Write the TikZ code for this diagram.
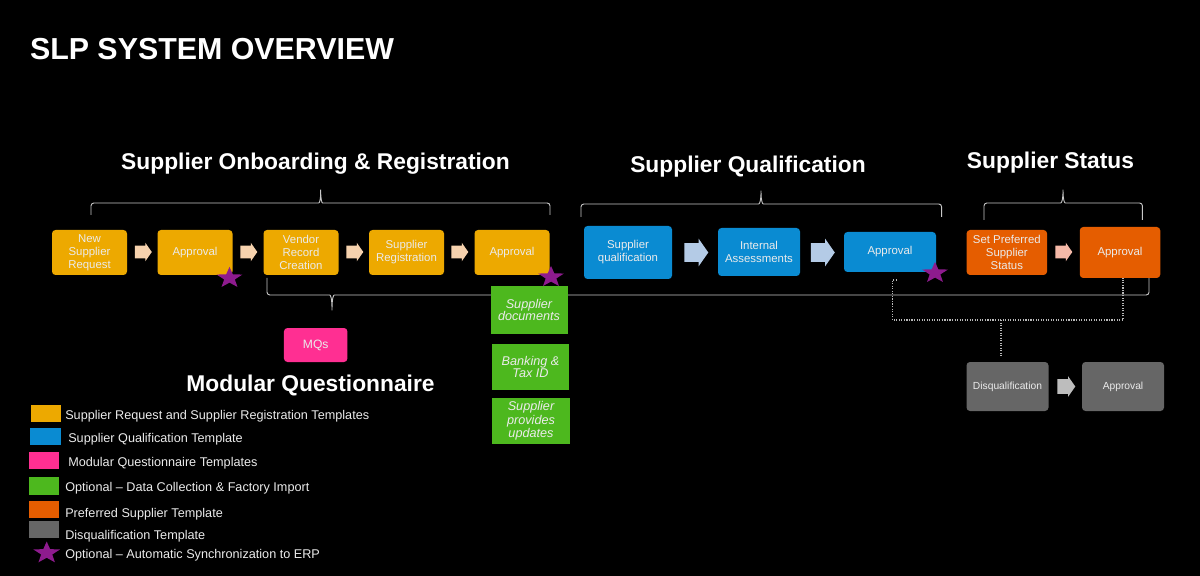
\documentclass[tikz,border=0pt]{standalone}
\usepackage{fontspec}
\setmainfont{Liberation Sans}
\usetikzlibrary{shapes.geometric, shapes.arrows}

\definecolor{yellowbox}{HTML}{EDA900}
\definecolor{bluebox}{HTML}{0A8BD2}
\definecolor{pinkbox}{HTML}{FF2F92}
\definecolor{greenbox}{HTML}{4DB81E}
\definecolor{orangebox}{HTML}{E55D00}
\definecolor{graybox}{HTML}{666666}
\definecolor{starcol}{HTML}{8E1B8E}
\definecolor{peach}{HTML}{F6D2AE}
\definecolor{paleblue}{HTML}{B4CBE6}
\definecolor{salmon}{HTML}{F5B9A8}
\definecolor{palegray}{HTML}{BDBDBD}
\definecolor{bracecol}{HTML}{C8C8C8}

\tikzset{
    wh/.style 2 args={minimum width=#1*0.025cm, minimum height=#2*0.025cm},
    box/.style={rounded corners=2.5pt, inner sep=0pt, align=center, text=white!92!black,
        font=\fontsize{8.1}{9.2}\selectfont},
    optbox/.style={inner sep=0pt, align=center, text=white!92!black,
        font=\fontsize{9}{9}\selectfont\itshape, fill=greenbox},
    blockarrow/.style 2 args={single arrow, anchor=tail, inner xsep=0pt, inner ysep=#1*0.025cm,
        single arrow tip angle=110, single arrow head extend=#2*0.025cm, single arrow head indent=0pt},
    smallarrow/.style={blockarrow={6}{3}, minimum height=17*0.025cm},
    bigarrow/.style={blockarrow={9}{4.5}, minimum height=24*0.025cm},
    erpstar/.style={star, star points=5, star point ratio=2.4, fill=starcol, inner sep=0pt,
        minimum size=#1*0.025cm, transform shape, yscale=0.82},
    erpstar/.default=27,
    heading/.style={text=white, font=\fontsize{16.2}{18}\selectfont\bfseries, inner sep=0pt},
    legendtext/.style={anchor=west, inner sep=0pt, text=white!92!black,
        font=\fontsize{9}{11}\selectfont},
    bracket/.style={draw=bracecol, line width=0.65pt, rounded corners=2pt},
    dots/.style={draw=white!72!black, line width=0.8pt, densely dotted},
}

\begin{document}
\begin{tikzpicture}[x=0.025cm, y=-0.025cm]
        \fill[black] (0,0) rectangle (1200,576);
        \useasboundingbox (0,0) rectangle (1200,576);

        % titles
        \node[text=white, font=\fontsize{21.6}{24}\selectfont\bfseries, inner sep=0pt] (title) at (212,49) {SLP SYSTEM OVERVIEW};
        \node[heading] (onboard) at (315.5,164) {Supplier Onboarding \& Registration};
        \node[heading] (qualif) at (748,167) {Supplier Qualification};
        \node[heading] (status) at (1050.5,163) {Supplier Status};
        \node[heading] (modular) at (310.5,385) {Modular Questionnaire};

        % braces
        \draw[bracket] (91,215) -- (91,203) -- (316,203) .. controls (319.5,203) and (320.7,200) .. (320.7,188) .. controls (320.7,200) and (321.9,203) .. (325.4,203) -- (550,203) -- (550,215);
        \draw[bracket] (581,217) -- (581,204) -- (756,204) .. controls (759.5,204) and (761,201) .. (761,189) .. controls (761,201) and (762.5,204) .. (766,204) -- (941.6,204) -- (941.6,217);
        \draw[bracket] (984,220) -- (984,203) -- (1058,203) .. controls (1061.5,203) and (1063,200) .. (1063,188) .. controls (1063,200) and (1064.5,203) .. (1068,203) -- (1142.4,203) -- (1142.4,220);
        \draw[bracket] (267,278) -- (267,295) -- (327,295) .. controls (330.5,295) and (332,298) .. (332,312) .. controls (332,298) and (333.5,295) .. (337,295) -- (1149,295) -- (1149,278);

        % onboarding
        \node[box, fill=yellowbox, wh={75}{45}] (request) at (89.5,252.5) {New\\Supplier\\Request};
        \node[box, fill=yellowbox, wh={75}{45}] (approvalA) at (195,252.5) {Approval};
        \node[box, fill=yellowbox, wh={75}{45}] (vendor) at (301,252.5) {Vendor\\Record\\Creation};
        \node[box, fill=yellowbox, wh={75}{45}] (registration) at (406.5,252.5) {Supplier\\Registration};
        \node[box, fill=yellowbox, wh={75}{45}] (approvalB) at (512,252.5) {Approval};

        \node[smallarrow, fill=peach] (arrowA) at (134.5,252) {};
        \node[smallarrow, fill=peach] (arrowB) at (240,252) {};
        \node[smallarrow, fill=peach] (arrowC) at (346,252) {};
        \node[smallarrow, fill=peach] (arrowD) at (451,252) {};

        % qualification
        \node[box, fill=bluebox, wh={88}{53}] (supqual) at (628,252.5) {Supplier\\qualification};
        \node[box, fill=bluebox, wh={82}{48}] (internal) at (759,252) {Internal\\Assessments};
        \node[box, fill=bluebox, wh={92}{40}] (approvalC) at (890,252) {Approval};

        \node[bigarrow, fill=paleblue] (arrowE) at (684,252.5) {};
        \node[bigarrow, fill=paleblue] (arrowF) at (810.5,252.5) {};

        % status
        \node[box, fill=orangebox, wh={80.5}{45}] (preferred) at (1006.8,252.5) {Set Preferred\\Supplier\\Status};
        \node[box, fill=orangebox, wh={80.5}{51}] (approvalD) at (1120,252.5) {Approval};
        \node[smallarrow, fill=salmon] (arrowG) at (1055,252) {};

        % disqualification
        \node[box, fill=graybox, wh={82}{49}, font=\fontsize{7.3}{9}\selectfont] (disqual) at (1007.5,386.5) {Disqualification};
        \node[box, fill=graybox, wh={82}{49}, font=\fontsize{7.3}{9}\selectfont] (approvalE) at (1123,386.5) {Approval};
        \node[blockarrow={7}{3}, minimum height=18*0.025cm, fill=palegray] (arrowH) at (1057,386.5) {};

        % optional steps
        \node[optbox, wh={77}{48}] (documents) at (529,310) {Supplier\\documents};
        \node[optbox, wh={77}{46}] (banking) at (530.5,367) {Banking \&\\Tax ID};
        \node[optbox, wh={78}{46}, font=\fontsize{9}{9.5}\selectfont\itshape] (updates) at (531,421) {Supplier\\provides\\updates};
        \node[box, fill=pinkbox, wh={63.5}{34}, font=\fontsize{8.6}{10}\selectfont] (mqs) at (315.7,345) {MQs};

        % stars
        \node[erpstar] (starA) at (229.5,278) {};
        \node[erpstar] (starB) at (551,277) {};
        \node[erpstar] (starC) at (935,273) {};

        % dotted links
        \coordinate (stub) at (897,280);
        \coordinate (corner) at (892.6,280);
        \coordinate (join) at (1001,320);
        \coordinate (drop) at (1001,356);
        \draw[dots] (stub) -- (corner) -- (892.6,320) -- (1123,320) -- (1123,277.7);
        \draw[dots] (join) -- (drop);

        % legend
        \fill[yellowbox] (31.4,405) rectangle (60.5,421.7);
        \fill[bluebox] (30,427.7) rectangle (60.5,445);
        \fill[pinkbox] (29,451.7) rectangle (59.3,469);
        \fill[greenbox] (29,477) rectangle (59,494.7);
        \fill[orangebox] (29,501) rectangle (59,518);
        \fill[graybox] (29,521) rectangle (59,538);
        \node[erpstar=28] (starL) at (46.7,553) {};

        \node[legendtext] (legA) at (65,416) {Supplier Request and Supplier Registration Templates};
        \node[legendtext] (legB) at (68,439) {Supplier Qualification Template};
        \node[legendtext] (legC) at (68,463) {Modular Questionnaire Templates};
        \node[legendtext] (legD) at (65,488) {Optional -- Data Collection \& Factory Import};
        \node[legendtext] (legE) at (65,514) {Preferred Supplier Template};
        \node[legendtext] (legF) at (65,536.5) {Disqualification Template};
        \node[legendtext] (legG) at (65,555.5) {Optional -- Automatic Synchronization to ERP};
    \end{tikzpicture}
\end{document}
